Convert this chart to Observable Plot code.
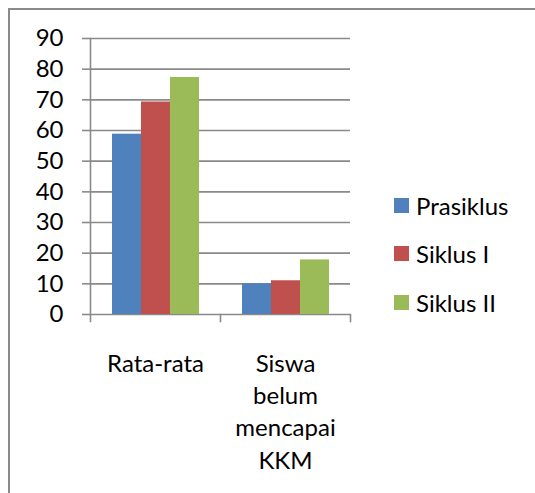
<!DOCTYPE html>
<html>
<head>
<meta charset="utf-8">
<script src="https://cdn.jsdelivr.net/npm/d3@7"></script>
<script src="https://cdn.jsdelivr.net/npm/@observablehq/plot@0.6"></script>
<style>
  html, body { margin: 0; padding: 0; background: #fff; }
  #wrap { position: relative; width: 535px; height: 493px; overflow: hidden; font-family: Lato, sans-serif; }
  #border { position: absolute; left: 8px; top: 8px; width: 700px; height: 700px; border-left: 2px solid #8a8a8a; border-top: 2px solid #8a8a8a; pointer-events: none; z-index: 2; }
  #legend { position: absolute; left: 394px; top: 181px; display: flex; flex-direction: column; z-index: 3; }
  .item { display: flex; align-items: center; height: 48.5px; font-size: 24px; color: #000; }
  .sw { width: 15px; height: 15px; margin-right: 7px; }
</style>
</head>
<body>
<div id="wrap"><div id="border"></div><div id="legend"></div></div>
<script>
const categories = ["Rata-rata", "Siswa belum mencapai KKM"];
const categoryLabels = ["Rata-rata", "Siswa\nbelum\nmencapai\nKKM"];
const seriesNames = ["Prasiklus", "Siklus I", "Siklus II"];
const prasiklus = [58.8, 10];
const siklusI = [69.3, 11];
const siklusII = [77.3, 17.8];
const seriesColors = ["#4F81BD", "#C0504D", "#9BBB59"];
const yTicks = [0, 10, 20, 30, 40, 50, 60, 70, 80, 90];

const seriesValues = [prasiklus, siklusI, siklusII];
const table = [];
categories.forEach((c, i) => {
  seriesNames.forEach((s, j) => table.push({category: c, series: s, value: seriesValues[j][i]}));
});

const W = 535, H = 493, mt = 38, mb = 179, ml = 90, mr = 185;
const innerH = H - mt - mb;
const gridColor = "#8a8a8a";

const chart = Plot.plot({
  width: W, height: H,
  marginTop: mt, marginBottom: mb, marginLeft: ml, marginRight: mr,
  style: {fontFamily: "Lato, sans-serif", fontSize: "24px", background: "transparent", color: "#000"},
  fx: {domain: categories, paddingInner: 0, paddingOuter: 0, label: null},
  x: {domain: seriesNames, paddingInner: 0, paddingOuter: 0.741, axis: null},
  y: {domain: [0, 90], axis: null},
  color: {domain: seriesNames, range: seriesColors},
  marks: [
    Plot.ruleY(yTicks, {stroke: gridColor, strokeWidth: 1.6}),
    Plot.barY(table, {fx: "category", x: "series", y: "value", fill: "series"}),
    Plot.frame({anchor: "left", stroke: gridColor, strokeWidth: 1.6, insetBottom: -7, fx: () => categories[0]}),
    Plot.frame({anchor: "right", stroke: gridColor, strokeWidth: 1.6, insetTop: innerH, insetBottom: -7}),
    Plot.axisY({ticks: yTicks, tickSize: 8, tickPadding: 19, stroke: gridColor, strokeWidth: 1.6, fill: "#000", fontSize: 24, label: null}),
    Plot.axisFx({anchor: "bottom", tickSize: 0, tickPadding: 34, fontSize: 24, lineHeight: 1.35, fill: "#000", label: null,
      tickFormat: d => categoryLabels[categories.indexOf(d)]})
  ]
});
document.getElementById("wrap").appendChild(chart);

const legend = document.getElementById("legend");
seriesNames.forEach((s, j) => {
  const it = document.createElement("div");
  it.className = "item";
  const sw = document.createElement("span");
  sw.className = "sw";
  sw.style.background = seriesColors[j];
  const t = document.createElement("span");
  t.textContent = s;
  it.appendChild(sw); it.appendChild(t);
  legend.appendChild(it);
});
</script>
</body>
</html>
